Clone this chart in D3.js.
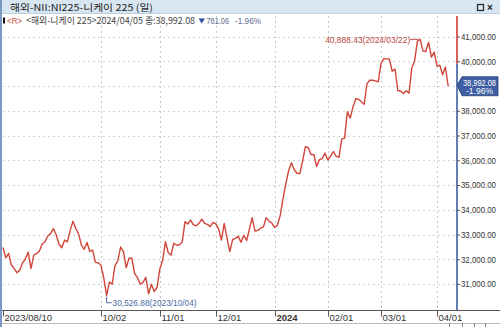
<!DOCTYPE html>
<html><head><meta charset="utf-8">
<script src="https://cdn.jsdelivr.net/npm/d3@7"></script>
<style>
html,body{margin:0;padding:0;background:#fff;}
svg{display:block;}
text{font-family:"Liberation Sans",Arial,sans-serif;}
.kr{font-family:"Noto Sans CJK KR","Noto Sans",sans-serif;}
</style></head>
<body>
<svg id="c" width="500" height="327"></svg>
<script>
// ---- data ----
const months = [
  ["2023-08", [10,14,15,16,17,18,21,22,23,24,25,28,29,30,31]],
  ["2023-09", [1,4,5,6,7,8,11,12,13,14,15,19,20,21,22,25,26,27,28,29]],
  ["2023-10", [2,3,4,5,6,10,11,12,13,16,17,18,19,20,23,24,25,26,27,30,31]],
  ["2023-11", [1,2,6,7,8,9,10,13,14,15,16,17,20,21,22,24,27,28,29,30]],
  ["2023-12", [1,4,5,6,7,8,11,12,13,14,15,18,19,20,21,22,25,26,27,28,29]],
  ["2024-01", [4,5,9,10,11,12,15,16,17,18,19,22,23,24,25,26,29,30,31]],
  ["2024-02", [1,2,5,6,7,8,9,13,14,15,16,19,20,21,22,26,27,28,29]],
  ["2024-03", [1,4,5,6,7,8,11,12,13,14,15,18,19,21,22,25,26,27,28,29]],
  ["2024-04", [1,2,3,4,5]]
];
const dates = months.flatMap(([m, ds]) => ds.map(d => m + "-" + String(d).padStart(2, "0")));
const closes = [
  // Aug
  32473.65,32059.91,32238.89,31766.82,31626.00,31450.76,31565.64,31856.71,32010.26,32287.21,31624.28,32169.99,32226.97,32333.46,32619.34,
  // Sep
  32710.62,32939.18,33036.76,33241.02,32991.08,32606.84,32467.76,32776.37,32706.52,33168.10,33533.09,33242.59,33023.78,32571.03,32402.41,32678.62,32315.05,32371.90,31872.52,31857.62,
  // Oct
  31759.88,31237.94,30526.88,31075.36,30994.67,31746.53,31936.51,32494.66,32315.99,31659.03,32040.29,32042.25,31430.62,31259.36,30999.55,31062.35,31269.92,30601.78,30991.69,30696.96,30858.85,
  // Nov
  31601.65,31949.89,32708.48,32271.82,32166.48,32646.46,32568.11,32585.11,32695.93,33519.70,33424.41,33585.20,33388.03,33354.14,33451.83,33625.53,33447.67,33408.39,33321.22,33486.89,
  // Dec
  33431.51,33231.27,32775.82,33445.90,32858.31,32307.86,32791.80,32843.04,32926.35,32686.25,32970.55,32758.98,33219.39,33675.94,33140.47,33169.05,33254.03,33305.85,33681.24,33539.62,33464.17,
  // Jan
  33288.29,33377.42,33763.18,34441.72,35049.86,35577.11,35901.79,35619.18,35477.75,35466.17,35963.27,36546.95,36517.57,36226.48,36236.47,35751.07,36026.94,36065.86,36286.71,
  // Feb
  36011.46,36158.02,36354.16,36160.66,36119.92,36863.28,36897.42,37963.97,37703.32,38157.94,38487.24,38470.38,38363.61,38262.16,39098.68,39233.71,39239.52,39208.03,39166.19,
  // Mar
  39910.82,40109.23,40097.63,40090.78,39598.71,39688.94,38820.49,38797.51,38695.97,38807.38,38707.64,39740.44,40003.60,40815.66,40888.43,40414.12,40398.03,40762.73,40168.07,40369.44,
  // Apr
  39803.09,39838.91,39451.85,39773.14,38992.08
];
const xTicks = [
  {date:"2023-08-10", label:"2023/08/10", bold:false},
  {date:"2023-10-02", label:"10/02", bold:false},
  {date:"2023-11-01", label:"11/01", bold:false},
  {date:"2023-12-01", label:"12/01", bold:false},
  {date:"2024-01-04", label:"2024", bold:true},
  {date:"2024-02-01", label:"02/01", bold:false},
  {date:"2024-03-01", label:"03/01", bold:false},
  {date:"2024-04-01", label:"04/01", bold:false}
];
const yTicks = [31000,32000,33000,34000,35000,36000,37000,38000,39000,40000,41000];
const titleText = "해외-NII:NI225-니케이 225 (일)";
const infoName = "<해외-니케이 225>2024/04/05 종:38,992.08";
const infoChange = "781.06";
const infoPct = "-1.96%";
const lastPct = "-1.96%";
const axisSplitValue = 39900;

// ---- layout ----
const svg = d3.select("#c");
const plotTop = 14, plotBottom = 310.5, axisX = 457;
const x = d3.scalePoint().domain(dates).range([3, 448.2]);
const y = d3.scaleLinear().domain([29950, 41830]).range([310, 16]);
const fmt = d3.format(",.2f");

// title bar
svg.append("rect").attr("x",0).attr("y",0).attr("width",500).attr("height",13).attr("fill","#d8e6f2");
svg.append("line").attr("x1",0).attr("x2",500).attr("y1",13.5).attr("y2",13.5).attr("stroke","#bcd0e2");
svg.append("text").attr("x",3).attr("y",10).attr("font-size",7).attr("fill","#8aa").text(":");
svg.append("text").attr("class","kr").attr("x",10).attr("y",10.5).attr("font-size",9.5).attr("fill","#222")
  .attr("textLength",143).attr("lengthAdjust","spacingAndGlyphs").text(titleText);
svg.append("rect").attr("x",477.5).attr("y",4.5).attr("width",6).attr("height",6).attr("fill","none").attr("stroke","#222").attr("stroke-width",1.2);
svg.append("text").attr("x",487).attr("y",11).attr("font-size",10).attr("font-weight","bold").attr("fill","#222").text("×");

// gridlines
const grid = svg.append("g");
grid.selectAll("line.h").data(yTicks).join("line")
  .attr("x1",3).attr("x2",axisX).attr("y1",d=>Math.round(y(d))+0.5).attr("y2",d=>Math.round(y(d))+0.5)
  .attr("stroke","#d4d4d4").attr("stroke-dasharray","2,3");
grid.selectAll("line.v").data(xTicks.slice(1)).join("line")
  .attr("x1",d=>Math.round(x(d.date))+0.5).attr("x2",d=>Math.round(x(d.date))+0.5)
  .attr("y1",plotTop+2).attr("y2",plotBottom)
  .attr("stroke","#c8c8c8").attr("stroke-dasharray","2,3");

// info line
svg.append("rect").attr("x",3).attr("y",17.5).attr("width",2).attr("height",6).attr("fill","#111");
svg.append("text").attr("x",7).attr("y",24).attr("font-size",9.5).attr("fill","#c85048")
  .attr("textLength",15).attr("lengthAdjust","spacingAndGlyphs").text("<R>");
svg.append("text").attr("class","kr").attr("x",26).attr("y",24).attr("font-size",9.5).attr("fill","#444")
  .attr("textLength",169).attr("lengthAdjust","spacingAndGlyphs").text(infoName);
svg.append("path").attr("d","M198.5,18.5H205L201.75,23.5Z").attr("fill","#2d4f9e");
svg.append("text").attr("x",206.5).attr("y",24).attr("font-size",9.5).attr("fill","#5d6b8c")
  .attr("textLength",22.5).attr("lengthAdjust","spacingAndGlyphs").text(infoChange);
svg.append("text").attr("x",235).attr("y",24).attr("font-size",9.5).attr("fill","#5d6b8c")
  .attr("textLength",26).attr("lengthAdjust","spacingAndGlyphs").text(infoPct);

// line
const line = d3.line().x((d,i)=>x(dates[i])).y(d=>y(d));
svg.append("path").datum(closes).attr("d",line).attr("fill","none")
  .attr("stroke","#d2463a").attr("stroke-width",1.4).attr("stroke-linejoin","round");

// max / min annotations
const maxI = d3.maxIndex(closes), minI = d3.minIndex(closes);
const mx = x(dates[maxI]), my = y(closes[maxI]);
svg.append("line").attr("x1",mx-10).attr("x2",mx-2).attr("y1",my).attr("y2",my).attr("stroke","#b5483e");
svg.append("text").attr("x",mx-10).attr("y",my+3.5).attr("text-anchor","end").attr("font-size",9).attr("fill","#b5483e")
  .attr("textLength",85).attr("lengthAdjust","spacingAndGlyphs")
  .text(fmt(closes[maxI]) + "(" + dates[maxI].replace(/-/g,"/") + ")");
const lx = x(dates[minI]), ly = y(closes[minI]);
svg.append("path").attr("d",`M${lx},${ly+1}V${ly+7}H${lx+5}`).attr("fill","none").attr("stroke","#4a6aa5");
svg.append("text").attr("x",lx+6).attr("y",ly+10).attr("font-size",9).attr("fill","#4a6aa5")
  .attr("textLength",84).attr("lengthAdjust","spacingAndGlyphs")
  .text(fmt(closes[minI]) + "(" + dates[minI].replace(/-/g,"/") + ")");

// right axis
svg.append("rect").attr("x",axisX+1).attr("y",plotTop).attr("width",42).attr("height",plotBottom-plotTop).attr("fill","#fff");
svg.append("line").attr("x1",axisX).attr("x2",axisX).attr("y1",16).attr("y2",y(axisSplitValue)).attr("stroke","#d33a32").attr("stroke-width",1.6);
svg.append("line").attr("x1",axisX).attr("x2",axisX).attr("y1",y(axisSplitValue)).attr("y2",plotBottom).attr("stroke","#3d5f9c").attr("stroke-width",1.6);
const yAxis = d3.axisRight(y).tickValues(yTicks.filter(v=>v!==39000)).tickSize(3).tickPadding(1).tickFormat(fmt);
const ya = svg.append("g").attr("transform",`translate(${axisX},0)`).call(yAxis);
ya.select(".domain").remove();
ya.selectAll(".tick line").attr("stroke","#555");
ya.selectAll(".tick text").attr("font-size",9).attr("fill","#333").attr("font-family","Liberation Sans, Arial, sans-serif")
  .attr("textLength",35).attr("lengthAdjust","spacingAndGlyphs");

// last value label
const last = closes[closes.length-1], lyv = y(last);
svg.append("path").attr("d",`M${axisX},${lyv-1}L${axisX+5},${lyv-9.5}H498V${lyv+9.5}H${axisX+5}Z`)
  .attr("fill","#3d5ea3").attr("stroke","#2b447a").attr("stroke-width",0.8);
svg.append("text").attr("x",479.5).attr("y",lyv-0.5).attr("text-anchor","middle").attr("font-size",8.5).attr("fill","#fff")
  .attr("textLength",33).attr("lengthAdjust","spacingAndGlyphs").text(fmt(last));
svg.append("text").attr("x",479.5).attr("y",lyv+8).attr("text-anchor","middle").attr("font-size",8.5).attr("fill","#fff")
  .attr("textLength",27).attr("lengthAdjust","spacingAndGlyphs").text(lastPct);

// x axis
svg.append("line").attr("x1",0).attr("x2",500).attr("y1",plotBottom).attr("y2",plotBottom).attr("stroke","#555");
const xg = svg.append("g");
xg.selectAll("line").data(xTicks).join("line")
  .attr("x1",d=>Math.round(x(d.date))+0.5).attr("x2",d=>Math.round(x(d.date))+0.5)
  .attr("y1",plotBottom).attr("y2",plotBottom+6).attr("stroke","#555");
xg.selectAll("text").data(xTicks).join("text")
  .attr("x",d=>Math.round(x(d.date))+1.5).attr("y",320.5).attr("font-size",9.5)
  .attr("font-weight",d=>d.bold?"bold":"normal").attr("fill","#333").text(d=>d.label);

// bottom strip
svg.append("line").attr("x1",0).attr("x2",500).attr("y1",323.5).attr("y2",323.5).attr("stroke","#bbb");
svg.selectAll("line.bt").data([449,462,474,485]).join("line")
  .attr("x1",d=>d+0.5).attr("x2",d=>d+0.5).attr("y1",323).attr("y2",327).attr("stroke","#888");

// left border
svg.append("rect").attr("x",0).attr("y",0).attr("width",2).attr("height",327).attr("fill","#7a98c4");
</script>
</body></html>
